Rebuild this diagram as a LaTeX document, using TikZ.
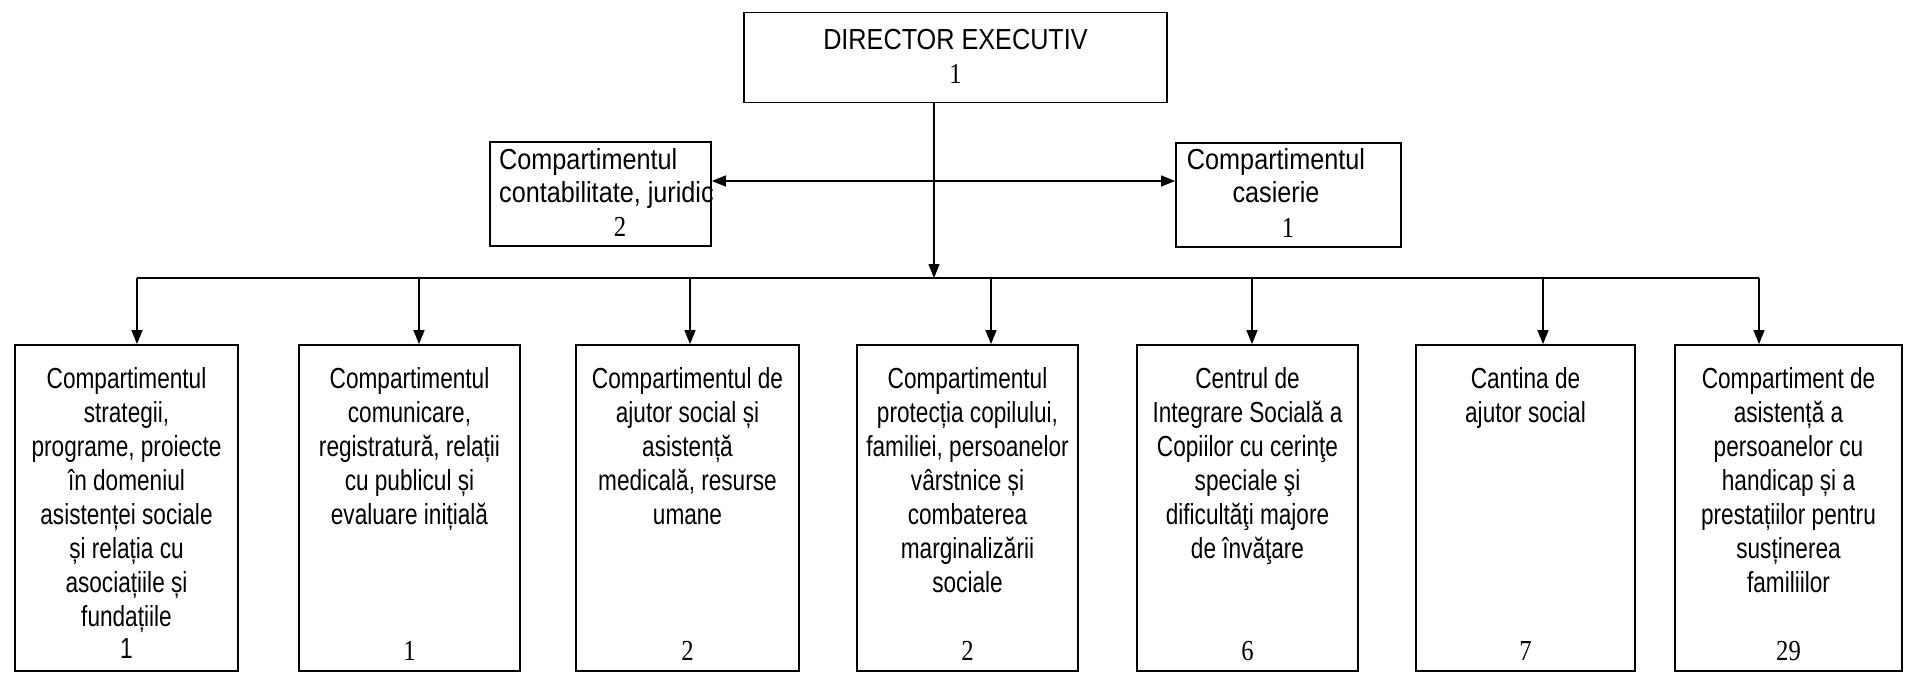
\documentclass[tikz,border=0pt]{standalone}
\usepackage{fontspec}
\setmainfont{Liberation Serif}[FakeStretch=0.85]
\newfontfamily\bsans{Liberation Sans}[FakeStretch=0.78]
\newfontfamily\msans{Liberation Sans}[FakeStretch=0.87]
\usetikzlibrary{arrows.meta}
\begin{document}
\begin{tikzpicture}[x=1pt,y=-1pt,
  box/.style={draw, line width=1.8pt, inner sep=0pt},
  btxt/.style={font=\bsans\fontsize{29}{34}\selectfont, align=center, anchor=north, inner sep=0pt},
  mtxt/.style={font=\msans\fontsize{29}{33}\selectfont, inner sep=0pt},
  num/.style={font=\fontsize{29}{33}\selectfont, inner sep=0pt, anchor=base},
  conn/.style={line width=1.4pt},
  arr/.style={conn, -{Triangle[width=11pt,length=14pt]}},
  darr/.style={conn, {Triangle[width=11pt,length=14pt]}-{Triangle[width=11pt,length=14pt]}},
]
\useasboundingbox (0,0) rectangle (1906,674);

% top
\node[box, minimum width=423, minimum height=90] (dir) at (955.5,57.5) {};
\node[mtxt, anchor=base] (dirt) at (955.5,50) {DIRECTOR EXECUTIV};
\node[num] (dirn) at (955.5,84) {1};

\node[box, minimum width=221, minimum height=104] (cj) at (600.5,194) {};
\node[mtxt, align=left, anchor=north west] (cjt) at (499,148) {Compartimentul\\contabilitate, juridic};
\node[num] (cjn) at (620,236) {2};

\node[box, minimum width=225, minimum height=104] (cs) at (1288.5,195) {};
\node[mtxt, align=center, anchor=north] (cst) at (1276,148) {Compartimentul\\casierie};
\node[num] (csn) at (1288,237) {1};

% bottom boxes
\foreach \n/\cx/\w in {1/126.5/223, 2/409.5/221, 3/687.5/223, 4/967.5/221, 5/1247.5/221, 6/1525.5/219, 7/1788.5/227}{
  \node[box, minimum width=\w, minimum height=326] (b\n) at (\cx,508) {};
}
\node[btxt] (t1) at (126.5,367) {Compartimentul\\strategii,\\programe, proiecte\\în domeniul\\asistenței sociale\\și relația cu\\asociațiile și\\fundațiile};
\node[btxt] (t2) at (409.5,367) {Compartimentul\\comunicare,\\registratură, relații\\cu publicul și\\evaluare inițială};
\node[btxt] (t3) at (687.5,367) {Compartimentul de\\ajutor social și\\asistență\\medicală, resurse\\umane};
\node[btxt] (t4) at (967.5,367) {Compartimentul\\protecția copilului,\\familiei, persoanelor\\vârstnice și\\combaterea\\marginalizării\\sociale};
\node[btxt] (t5) at (1247.5,367) {Centrul de\\Integrare Socială a\\Copiilor cu cerinţe\\speciale şi\\dificultăţi majore\\de învăţare};
\node[btxt] (t6) at (1525.5,367) {Cantina de\\ajutor social};
\node[btxt] (t7) at (1788.5,367) {Compartiment de\\asistență a\\persoanelor cu\\handicap și a\\prestațiilor pentru\\susținerea\\familiilor};

\node[num, font=\bsans\fontsize{29}{34}\selectfont] (n1) at (126.5,658) {1};
\node[num] (n2) at (409.5,660) {1};
\node[num] (n3) at (687.5,660) {2};
\node[num] (n4) at (967.5,660) {2};
\node[num] (n5) at (1247.5,660) {6};
\node[num] (n6) at (1525.5,660) {7};
\node[num] (n7) at (1788.5,660) {29};

% connectors
\coordinate (hy) at (0,181);
\draw[darr] (cj.east |- hy) -- (cs.west |- hy);
\coordinate (dv) at (934,278);
\draw[arr] (dv |- dir.south) -- (dv);
\coordinate (busL) at (137,278);
\coordinate (busR) at (1759,278);
\draw[conn] (busL) -- (busR);
\foreach \n/\ax in {1/137, 2/419, 3/690, 4/991, 5/1252, 6/1543, 7/1759}{
  \coordinate (a\n) at (\ax,278);
  \draw[arr] (a\n) -- (a\n |- b\n.north);
}
\end{tikzpicture}
\end{document}
